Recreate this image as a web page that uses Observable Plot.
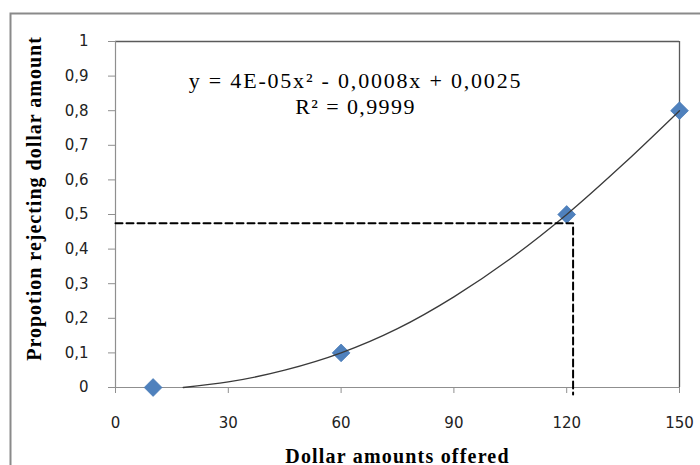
<!DOCTYPE html>
<html>
<head>
<meta charset="utf-8">
<script src="https://cdn.jsdelivr.net/npm/d3@7"></script>
<script src="https://cdn.jsdelivr.net/npm/@observablehq/plot@0.6"></script>
<style>
  html, body { margin: 0; padding: 0; background: #fff; }
  #chart { width: 700px; height: 465px; overflow: hidden; }
  svg { overflow: visible; }
</style>
</head>
<body>
<div id="chart"></div>
<script>
// Observed data points
const offered = [10, 60, 120, 150];
const rejecting = [0, 0.1, 0.5, 0.8];

// Polynomial trendline
const trendX = [18, 30, 45, 60, 75, 90, 105, 120, 135, 150];
const trendY = [0, 0.016, 0.05, 0.1, 0.17, 0.262, 0.372, 0.5, 0.645, 0.8];

// Dashed guide (read-off of 0.475 at ~121.7)
const guideX = [0, 121.7, 121.7];
const guideY = [0.475, 0.475, -0.02];

// Axis ticks
const xTicks = [0, 30, 60, 90, 120, 150];
const yTicks = [0, 0.1, 0.2, 0.3, 0.4, 0.5, 0.6, 0.7, 0.8, 0.9, 1];

// Texts
const equationText = "y = 4E-05x² - 0,0008x + 0,0025";
const r2Text = "R² = 0,9999";
const xTitle = "Dollar amounts offered";
const yTitle = "Propotion rejecting dollar amount";

const points = offered.map((x, i) => ({x, y: rejecting[i]}));
const trend = trendX.map((x, i) => ({x, y: trendY[i]}));
const guide = guideX.map((x, i) => ({x, y: guideY[i]}));

const serif = "'Times New Roman', 'Liberation Serif', serif";
const sans = "Verdana, 'DejaVu Sans', sans-serif";

const chart = Plot.plot({
  width: 700,
  height: 465,
  marginLeft: 115,
  marginRight: 21,
  marginTop: 41,
  marginBottom: 78,
  x: {domain: [0, 150]},
  y: {domain: [0, 1]},
  style: {background: "#fff", overflow: "visible"},
  marks: [
    // frame top and right (darker)
    Plot.ruleY([1], {stroke: "#5a5a5a", strokeWidth: 1.3}),
    Plot.ruleX([150], {stroke: "#5a5a5a", strokeWidth: 1.3}),
    // axis lines (lighter)
    Plot.ruleX([0], {stroke: "#8f8f8f", strokeWidth: 1.2}),
    Plot.ruleY([0], {stroke: "#8f8f8f", strokeWidth: 1.2}),
    Plot.axisY({
      ticks: yTicks,
      tickFormat: d => String(d).replace(".", ","),
      tickSize: 7,
      tickPadding: 20,
      stroke: "#8f8f8f",
      fill: "#222",
      fontSize: 15,
      fontFamily: sans,
      label: null
    }),
    Plot.axisX({
      ticks: xTicks,
      tickFormat: d => String(d),
      tickSize: 6,
      tickPadding: 24,
      stroke: "#8f8f8f",
      fill: "#222",
      fontSize: 15,
      fontFamily: sans,
      label: null
    }),
    Plot.dot(points, {x: "x", y: "y", symbol: "diamond2", r: 8, fill: "#4F81BD", stroke: "#4A7CB8", strokeWidth: 0.8}),
    Plot.line(trend, {x: "x", y: "y", curve: "monotone-x", stroke: "#3a3a3a", strokeWidth: 1.3}),
    Plot.line(guide, {x: "x", y: "y", stroke: "#000", strokeWidth: 2, strokeDasharray: "7,4"}),
    Plot.text([equationText], {
      frameAnchor: "top-left", dx: 240, dy: 46.5, lineAnchor: "bottom",
      textAnchor: "middle", fontFamily: serif, fontSize: 22, fill: "#000"
    }),
    Plot.text([r2Text], {
      frameAnchor: "top-left", dx: 240, dy: 72, lineAnchor: "bottom",
      textAnchor: "middle", fontFamily: serif, fontSize: 22, fill: "#000"
    }),
    Plot.text([xTitle], {
      frameAnchor: "bottom", dy: 75, lineAnchor: "bottom",
      textAnchor: "middle", fontFamily: serif, fontWeight: "bold", fontSize: 20, fill: "#000"
    }),
    Plot.text([yTitle], {
      frameAnchor: "left", dx: -75, dy: -16, lineAnchor: "bottom", rotate: -90,
      textAnchor: "middle", fontFamily: serif, fontWeight: "bold", fontSize: 20, fill: "#000"
    })
  ]
});

// letter spacing for the serif texts (Excel-like stretched text)
d3.select(chart).selectAll("text").each(function () {
  const t = this.textContent;
  if (t === xTitle) this.setAttribute("letter-spacing", "1.2");
  if (t === yTitle) this.setAttribute("letter-spacing", "1");
  if (t === equationText) this.setAttribute("letter-spacing", "1.8");
  if (t === r2Text) this.setAttribute("letter-spacing", "1.4");
});

// outer chart-area border (clipped on the right and bottom like the reference)
d3.select(chart).insert("rect", ":first-child")
  .attr("x", 10.5).attr("y", 13.5)
  .attr("width", 800).attr("height", 800)
  .attr("fill", "none").attr("stroke", "#8a8a8a").attr("stroke-width", 2);

document.getElementById("chart").appendChild(chart);
</script>
</body>
</html>
